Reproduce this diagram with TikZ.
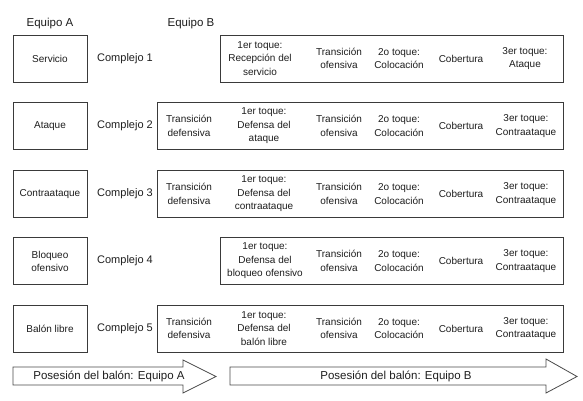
\documentclass[tikz,border=0pt]{standalone}
\usepackage{fontspec}
\setmainfont{Liberation Sans}
\definecolor{linegray}{HTML}{3A3A3A}
\definecolor{arrgray}{HTML}{4A4A4A}
\definecolor{txt}{HTML}{1E1E1E}
\begin{document}
\begin{tikzpicture}[x=1pt,y=-1pt,
  abox/.style={draw=linegray, line width=0.9pt, inner sep=0pt, minimum width=74pt, minimum height=47pt, align=center, text=txt, font=\fontsize{10}{13}\selectfont},
  rbox/.style={draw=linegray, line width=0.9pt, inner sep=0pt, minimum height=47pt},
  cell/.style={align=center, text=txt, font=\fontsize{10}{13.5}\selectfont, inner sep=0pt},
  cx/.style={text=txt, font=\fontsize{11}{13}\selectfont, inner sep=0pt},
  hd/.style={text=txt, font=\fontsize{11.5}{13}\selectfont, inner sep=0pt},
  arr/.style={draw=arrgray, line width=0.8pt, fill=white, line join=miter},
  arrtxt/.style={text=txt, font=\fontsize{11.5}{13}\selectfont, inner sep=0pt}
]
\useasboundingbox (0,0) rectangle (583,401);
\fill[white] (0,0) rectangle (583,401);

% headers
\node[hd] (ea) at (50,24) {Equipo A};
\node[hd] (eb) at (191,24) {Equipo B};

% left boxes
\node[abox] (a1) at (50,58.5) {Servicio};
\node[abox] (a2) at (50,126) {Ataque};
\node[abox] (a3) at (50,194) {Contraataque};
\node[abox] (a4) at (50,261) {Bloqueo\\ofensivo};
\node[abox] (a5) at (50,328.5) {Balón libre};

% complejo labels
\node[cx] (c1) at (125,58.5) {Complejo 1};
\node[cx] (c2) at (125,126) {Complejo 2};
\node[cx] (c3) at (125,194) {Complejo 3};
\node[cx] (c4) at (125,261) {Complejo 4};
\node[cx] (c5) at (125,328.5) {Complejo 5};

% right boxes
\node[rbox, minimum width=343pt] (r1) at (391.5,58.5) {};
\node[rbox, minimum width=406pt] (r2) at (360,126) {};
\node[rbox, minimum width=406pt] (r3) at (360,194) {};
\node[rbox, minimum width=343pt] (r4) at (391.5,261) {};
\node[rbox, minimum width=406pt] (r5) at (360,328.5) {};

% row 1
\node[cell] (r1b) at (260,58.5) {1er toque:\\Recepción del\\servicio};
\node[cell] (r1c) at (339,58.5) {Transición\\ofensiva};
\node[cell] (r1d) at (399,58.5) {2o toque:\\Colocación};
\node[cell] (r1e) at (461,58.5) {Cobertura};
\node[cell] (r1f) at (525,58.5) {3er toque:\\Ataque};

% row 2
\node[cell] (r2a) at (189,126) {Transición\\defensiva};
\node[cell] (r2b) at (264,126) {1er toque:\\Defensa del\\ataque};
\node[cell] (r2c) at (339,126) {Transición\\ofensiva};
\node[cell] (r2d) at (399,126) {2o toque:\\Colocación};
\node[cell] (r2e) at (461,126) {Cobertura};
\node[cell] (r2f) at (526,126) {3er toque:\\Contraataque};

% row 3
\node[cell] (r3a) at (189,194) {Transición\\defensiva};
\node[cell] (r3b) at (264,194) {1er toque:\\Defensa del\\contraataque};
\node[cell] (r3c) at (339,194) {Transición\\ofensiva};
\node[cell] (r3d) at (399,194) {2o toque:\\Colocación};
\node[cell] (r3e) at (461,194) {Cobertura};
\node[cell] (r3f) at (526,194) {3er toque:\\Contraataque};

% row 4
\node[cell] (r4b) at (265,261) {1er toque:\\Defensa del\\bloqueo ofensivo};
\node[cell] (r4c) at (339,261) {Transición\\ofensiva};
\node[cell] (r4d) at (399,261) {2o toque:\\Colocación};
\node[cell] (r4e) at (461,261) {Cobertura};
\node[cell] (r4f) at (526,261) {3er toque:\\Contraataque};

% row 5
\node[cell] (r5a) at (189,328.5) {Transición\\defensiva};
\node[cell] (r5b) at (264,328.5) {1er toque:\\Defensa del\\balón libre};
\node[cell] (r5c) at (339,328.5) {Transición\\ofensiva};
\node[cell] (r5d) at (399,328.5) {2o toque:\\Colocación};
\node[cell] (r5e) at (461,328.5) {Cobertura};
\node[cell] (r5f) at (526,328.5) {3er toque:\\Contraataque};

% possession arrows
\draw[arr] (13,367) -- (183,367) -- (183,360) -- (216,376.5) -- (183,393) -- (183,385) -- (13,385) -- cycle;
\node[arrtxt] (pa) at (109,376) {Posesión del balón: Equipo A};
\draw[arr] (230,367) -- (546,367) -- (546,359) -- (577,376.5) -- (546,393) -- (546,385) -- (230,385) -- cycle;
\node[arrtxt] (pb) at (396,376) {Posesión del balón: Equipo B};
\end{tikzpicture}
\end{document}
